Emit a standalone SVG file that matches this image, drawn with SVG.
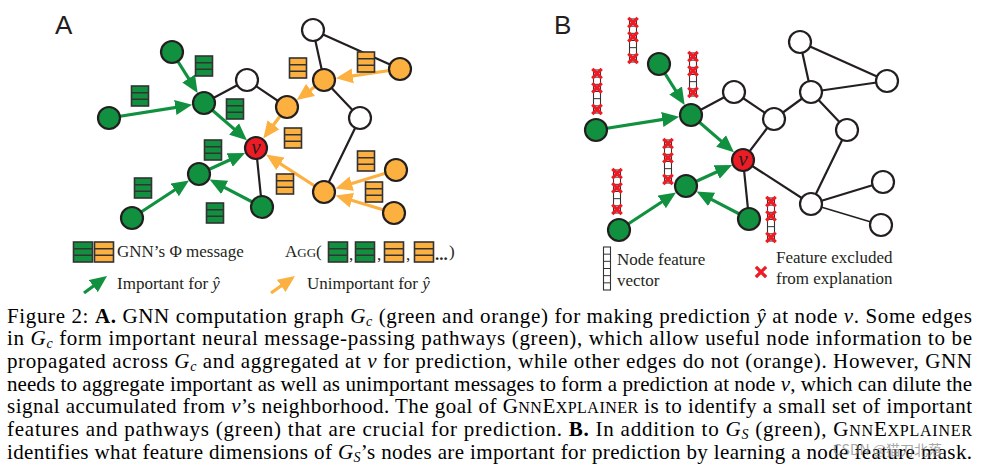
<svg xmlns="http://www.w3.org/2000/svg" width="982" height="472" viewBox="0 0 982 472">
<style>
.n{stroke:#231f20;stroke-width:2.2}
.g{fill:#11913f}.o{fill:#fbb040}.w{fill:#fff}.r{fill:#ed1c24}
.e{stroke:#231f20;stroke-width:2.2;fill:none}
.et{stroke:#231f20;stroke-width:1.4;fill:none}
.ga{stroke:#11913f;stroke-width:3.2;fill:none;marker-end:url(#hg)}
.oa{stroke:#fbb040;stroke-width:3.2;fill:none;marker-end:url(#ho)}
.lbl{font-family:"Liberation Sans",Arial,sans-serif;font-size:26px;fill:#231f20}
.lg{font-family:"Liberation Serif","Times New Roman",serif;font-size:17px;fill:#231f20}
.cap{font-family:"Liberation Serif","Times New Roman",serif;font-size:21px;fill:#000}
.vv{font-family:"Liberation Serif","Times New Roman",serif;font-size:21px;font-style:italic;fill:#231f20}
.x{stroke:#ed1c24;stroke-width:3.2;stroke-linecap:square}
</style>
<defs>
<marker id="hg" markerUnits="userSpaceOnUse" markerWidth="18" markerHeight="16" viewBox="0 0 18 16" refX="9" refY="8" orient="auto"><path d="M0,0.5 L17,8 L0,15.5 Z" fill="#11913f"/></marker>
<marker id="ho" markerUnits="userSpaceOnUse" markerWidth="18" markerHeight="16" viewBox="0 0 18 16" refX="9" refY="8" orient="auto"><path d="M0,0.5 L17,8 L0,15.5 Z" fill="#fbb040"/></marker>
<g id="mg"><rect x="-8.5" y="-10" width="17" height="20" fill="#11913f" stroke="#333" stroke-width="1.6"/><path d="M-8.5,-3.3H8.5M-8.5,3.3H8.5" stroke="#333" stroke-width="1.4"/></g>
<g id="mo"><rect x="-8.5" y="-10" width="17" height="20" fill="#fbb040" stroke="#333" stroke-width="1.6"/><path d="M-8.5,-3.3H8.5M-8.5,3.3H8.5" stroke="#333" stroke-width="1.4"/></g>
<g id="mgL"><rect x="-9.5" y="-10" width="19" height="20" fill="#11913f" stroke="#333" stroke-width="1.6"/><path d="M-9.5,-3.3H9.5M-9.5,3.3H9.5" stroke="#333" stroke-width="1.4"/></g>
<g id="moL"><rect x="-9.5" y="-10" width="19" height="20" fill="#fbb040" stroke="#333" stroke-width="1.6"/><path d="M-9.5,-3.3H9.5M-9.5,3.3H9.5" stroke="#333" stroke-width="1.4"/></g>
<g id="fv0"><rect x="-3.5" y="0" width="7" height="43" fill="#fff" stroke="#333" stroke-width="1.1"/><path d="M-3.5,7.17H3.5M-3.5,14.33H3.5M-3.5,21.5H3.5M-3.5,28.67H3.5M-3.5,35.83H3.5" stroke="#333" stroke-width="1"/></g>
<g id="xm"><path class="x" d="M-3.6,-3.6L3.6,3.6M-3.6,3.6L3.6,-3.6"/></g>
<g id="fv"><use href="#fv0"/><use href="#xm" x="0" y="3.6"/><use href="#xm" x="0" y="17.9"/><use href="#xm" x="0" y="39.4"/></g>
</defs>
<rect width="982" height="472" fill="#fff"/>

<text class="lbl" x="55" y="34">A</text>
<text class="lbl" x="554" y="34">B</text>

<!-- Panel A connectors -->
<g id="a-connectors">
<path class="e" d="M204,103L247,80M247,80L287,107M313,30L324,80M313,30L400,69M324,80L360,118M360,118L324,192M256,148L262,207"/>
<path class="ga" d="M172,52L193.4,86.1"/>
<path class="ga" d="M109,118L184.2,106.1"/>
<path class="ga" d="M204,103L240.9,134.9"/>
<path class="ga" d="M132,218L182.3,185"/>
<path class="ga" d="M199,174L237.8,156.3"/>
<path class="ga" d="M262,207L216.7,183.3"/>
<path class="oa" d="M400,69L343.8,77.1"/>
<path class="oa" d="M324,80L303.2,95.2"/>
<path class="oa" d="M287,107L268.1,132"/>
<path class="oa" d="M324,192L272.8,158.9"/>
<path class="oa" d="M396,170L343.1,186.2"/>
<path class="oa" d="M394,213L343.2,197.7"/>
</g>
<g id="a-messages">
<use href="#mg" x="204" y="66"/><use href="#mg" x="140" y="96"/><use href="#mg" x="235" y="109"/>
<use href="#mg" x="213" y="150"/><use href="#mg" x="143" y="188"/><use href="#mg" x="215" y="213"/>
<use href="#mo" x="298" y="68"/><use href="#mo" x="366" y="62"/><use href="#mo" x="293" y="138"/>
<use href="#mo" x="285" y="184"/><use href="#mo" x="366" y="161"/><use href="#mo" x="374" y="192"/>
</g>
<g id="a-g1"><circle class="n g" cx="172" cy="52" r="11"/></g>
<g id="a-g2"><circle class="n g" cx="109" cy="118" r="11"/></g>
<g id="a-g3"><circle class="n g" cx="204" cy="103" r="11"/></g>
<g id="a-w1"><circle class="n w" cx="247" cy="80" r="11"/></g>
<g id="a-o1"><circle class="n o" cx="287" cy="107" r="11"/></g>
<g id="a-o2"><circle class="n o" cx="324" cy="80" r="11"/></g>
<g id="a-w2"><circle class="n w" cx="313" cy="30" r="11"/></g>
<g id="a-o3"><circle class="n o" cx="400" cy="69" r="11"/></g>
<g id="a-w3"><circle class="n w" cx="360" cy="118" r="11"/></g>
<g id="a-g4"><circle class="n g" cx="199" cy="174" r="11"/></g>
<g id="a-g5"><circle class="n g" cx="132" cy="218" r="11"/></g>
<g id="a-g6"><circle class="n g" cx="262" cy="207" r="11"/></g>
<g id="a-o4"><circle class="n o" cx="324" cy="192" r="11"/></g>
<g id="a-o5"><circle class="n o" cx="396" cy="170" r="11"/></g>
<g id="a-o6"><circle class="n o" cx="394" cy="213" r="11"/></g>
<g id="a-v"><circle class="n r" cx="256" cy="148" r="11"/><text class="vv" x="256" y="154" text-anchor="middle">v</text></g>

<!-- Panel A legend -->
<g id="a-legend">
<use href="#mgL" x="83" y="252"/><use href="#moL" x="104" y="252"/>
<text class="lg" x="117" y="257">GNN’s Φ message</text>
<text class="lg" x="285" y="257">A<tspan font-size="13">GG</tspan>(</text>
<use href="#mgL" x="338" y="252"/><text class="lg" x="349" y="260">,</text>
<use href="#mgL" x="365" y="252"/><text class="lg" x="377" y="260">,</text>
<use href="#moL" x="394" y="252"/><text class="lg" x="406" y="260">,</text>
<use href="#moL" x="424" y="252"/><text class="lg" x="435" y="260" font-weight="bold">...</text><text class="lg" x="449" y="257">)</text>
<path class="ga" d="M84,293L100.6,280.8"/>
<text class="lg" x="117" y="289">Important for <tspan font-style="italic">ŷ</tspan></text>
<path class="oa" d="M271,293L288.5,280.6"/>
<text class="lg" x="307" y="289">Unimportant for <tspan font-style="italic">ŷ</tspan></text>
</g>

<!-- Panel B -->
<g transform="translate(487,12)">
<g id="b-connectors">
<path class="e" d="M204,103L247,80M247,80L287,107M313,30L324,80M313,30L400,69M324,80L360,118M360,118L324,192M256,148L262,207M400,69L324,80M324,80L287,107M287,107L256,148M324,192L256,148M396,170L324,192"/>
<path class="et" d="M394,213L324,192"/>
<path class="ga" d="M172,52L193.4,86.1"/>
<path class="ga" d="M109,118L184.2,106.1"/>
<path class="ga" d="M204,103L240.9,134.9"/>
<path class="ga" d="M132,218L182.3,185"/>
<path class="ga" d="M199,174L237.8,156.3"/>
<path class="ga" d="M262,207L216.7,183.3"/>
</g>
<g id="b-g1"><circle class="n g" cx="172" cy="52" r="11"/></g>
<g id="b-g2"><circle class="n g" cx="109" cy="118" r="11"/></g>
<g id="b-g3"><circle class="n g" cx="204" cy="103" r="11"/></g>
<g id="b-w1"><circle class="n w" cx="247" cy="80" r="11"/></g>
<g id="b-w4"><circle class="n w" cx="287" cy="107" r="11"/></g>
<g id="b-w5"><circle class="n w" cx="324" cy="80" r="11"/></g>
<g id="b-w2"><circle class="n w" cx="313" cy="30" r="11"/></g>
<g id="b-w6"><circle class="n w" cx="400" cy="69" r="11"/></g>
<g id="b-w3"><circle class="n w" cx="360" cy="118" r="11"/></g>
<g id="b-g4"><circle class="n g" cx="199" cy="174" r="11"/></g>
<g id="b-g5"><circle class="n g" cx="132" cy="218" r="11"/></g>
<g id="b-g6"><circle class="n g" cx="262" cy="207" r="11"/></g>
<g id="b-w7"><circle class="n w" cx="324" cy="192" r="11"/></g>
<g id="b-w8"><circle class="n w" cx="396" cy="170" r="11"/></g>
<g id="b-w9"><circle class="n w" cx="394" cy="213" r="11"/></g>
<g id="b-v"><circle class="n r" cx="256" cy="148" r="11"/><text class="vv" x="256" y="154" text-anchor="middle">v</text></g>
</g>
<g id="b-features">
<use href="#fv" x="633" y="19"/>
<use href="#fv" x="597" y="70"/>
<use href="#fv" x="693" y="53"/>
<use href="#fv" x="668" y="140"/>
<use href="#fv" x="617" y="170"/>
<use href="#fv" x="771" y="198"/>
</g>
<g id="b-legend">
<use href="#fv0" x="607" y="247"/>
<text class="lg" x="617" y="265">Node feature</text>
<text class="lg" x="617" y="286">vector</text>
<path class="x" d="M757,268L765,276M757,276L765,268" stroke-width="3.6"/>
<text class="lg" x="776" y="263">Feature excluded</text>
<text class="lg" x="776" y="284">from explanation</text>
</g>

<!-- Caption -->
<g id="caption">
<text class="cap" x="7" y="322.5" textLength="965" lengthAdjust="spacing">Figure 2: <tspan font-weight="bold">A.</tspan> GNN computation graph <tspan font-style="italic">G</tspan><tspan font-style="italic" font-size="14" dy="3">c</tspan><tspan dy="-3"> (green and orange) for making prediction </tspan><tspan font-style="italic">ŷ</tspan> at node <tspan font-style="italic">v</tspan>. Some edges</text>
<text class="cap" x="7" y="345.2" textLength="965" lengthAdjust="spacing">in <tspan font-style="italic">G</tspan><tspan font-style="italic" font-size="14" dy="3">c</tspan><tspan dy="-3"> form important neural message-passing pathways (green), which allow useful node information to be</tspan></text>
<text class="cap" x="7" y="367.8" textLength="965" lengthAdjust="spacing">propagated across <tspan font-style="italic">G</tspan><tspan font-style="italic" font-size="14" dy="3">c</tspan><tspan dy="-3"> and aggregated at </tspan><tspan font-style="italic">v</tspan> for prediction, while other edges do not (orange). However, GNN</text>
<text class="cap" x="7" y="390.5" textLength="965" lengthAdjust="spacing">needs to aggregate important as well as unimportant messages to form a prediction at node <tspan font-style="italic">v</tspan>, which can dilute the</text>
<text class="cap" x="7" y="413.2" textLength="965" lengthAdjust="spacing">signal accumulated from <tspan font-style="italic">v</tspan>’s neighborhood. The goal of G<tspan font-size="16">NN</tspan>E<tspan font-size="16">XPLAINER</tspan> is to identify a small set of important</text>
<text class="cap" x="7" y="435.8" textLength="965" lengthAdjust="spacing">features and pathways (green) that are crucial for prediction. <tspan font-weight="bold">B.</tspan> In addition to <tspan font-style="italic">G</tspan><tspan font-style="italic" font-size="14" dy="3">S</tspan><tspan dy="-3"> (green), G</tspan><tspan font-size="16">NN</tspan>E<tspan font-size="16">XPLAINER</tspan></text>
<text class="cap" x="7" y="458.5" textLength="965" lengthAdjust="spacing">identifies what feature dimensions of <tspan font-style="italic">G</tspan><tspan font-style="italic" font-size="14" dy="3">S</tspan><tspan dy="-3">’s nodes are important for prediction by learning a node feature mask.</tspan></text>
</g>
<text x="833" y="455" font-family="'Noto Sans CJK SC','Noto Sans',sans-serif" font-size="14" fill="#8a8a8a" opacity="0.75">CSDN @猫刀北落</text>
</svg>
